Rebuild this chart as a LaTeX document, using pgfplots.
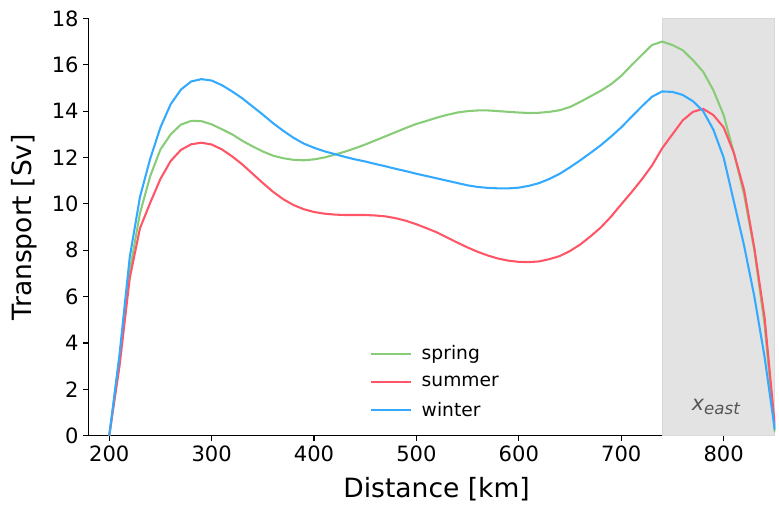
\documentclass[border=0pt]{standalone}
\usepackage{fontspec}
\setmainfont{DejaVu Sans}
\usepackage{pgfplots}
\usepackage{pgfplotstable}
\pgfplotsset{compat=1.18}
\definecolor{cspring}{HTML}{88CC77}
\definecolor{csummer}{HTML}{FF5566}
\definecolor{cwinter}{HTML}{33AAFF}
\definecolor{shade}{HTML}{E3E3E3}
\definecolor{shadeedge}{HTML}{D8D8D8}
\definecolor{xeast}{HTML}{555555}

\pgfplotstableread{
x spring summer winter
200 0.0 0.0 0.0
210 3.3 3.0 3.5
220 7.1 6.8 7.7
230 9.6 8.95 10.3
240 11.2 10.05 11.95
250 12.35 11.08 13.3
260 13.0 11.85 14.3
270 13.42 12.33 14.93
280 13.58 12.57 15.28
290 13.57 12.64 15.38
300 13.43 12.56 15.32
310 13.22 12.35 15.12
320 13.0 12.05 14.85
330 12.72 11.7 14.55
340 12.48 11.3 14.2
350 12.26 10.9 13.85
360 12.08 10.52 13.48
370 11.97 10.2 13.15
380 11.9 9.95 12.85
390 11.88 9.77 12.6
400 11.92 9.65 12.42
410 12.0 9.58 12.27
420 12.12 9.54 12.15
430 12.25 9.52 12.03
440 12.4 9.52 11.92
450 12.56 9.52 11.83
460 12.74 9.5 11.72
470 12.92 9.46 11.62
480 13.1 9.38 11.51
490 13.28 9.27 11.41
500 13.45 9.12 11.3
510 13.58 8.95 11.2
520 13.72 8.77 11.1
530 13.84 8.55 11.0
540 13.94 8.33 10.9
550 14.0 8.12 10.8
560 14.03 7.93 10.73
570 14.03 7.77 10.69
580 14.0 7.64 10.67
590 13.97 7.55 10.67
600 13.94 7.5 10.7
610 13.92 7.49 10.78
620 13.93 7.52 10.9
630 13.97 7.62 11.08
640 14.04 7.75 11.3
650 14.18 7.97 11.58
660 14.4 8.25 11.88
670 14.64 8.6 12.2
680 14.88 8.98 12.53
690 15.16 9.45 12.9
700 15.52 9.98 13.3
710 15.98 10.5 13.75
720 16.42 11.05 14.2
730 16.85 11.65 14.62
740 17.0 12.4 14.85
750 16.85 13.0 14.83
760 16.63 13.6 14.7
770 16.2 13.97 14.43
780 15.7 14.1 14.0
790 14.9 13.83 13.2
800 13.83 13.3 12.0
810 12.2 12.2 10.1
820 10.4 10.6 8.2
830 8.0 8.1 6.0
840 4.8 5.1 3.4
850 0.15 0.45 0.25
}\datatable

\begin{document}
\begin{tikzpicture}
\begin{axis}[
  scale only axis, width=515.25pt, height=313pt,
  xmin=179.5, xmax=850.5, ymin=0, ymax=18,
  axis x line*=bottom, axis y line*=left,
  x axis line style={-}, y axis line style={-},
  axis line style={line width=0.83pt, black},
  xtick={200,300,...,800}, ytick={0,2,...,18},
  tick align=outside, major tick length=3.7pt,
  tick style={line width=0.83pt, black},
  /pgf/number format/assume math mode=true,
  ticklabel style={font=\fontsize{15.8}{18}\selectfont},
  xlabel={Distance [km]}, ylabel={Transport [Sv]},
  label style={font=\fontsize{19.9}{23}\selectfont},
  xlabel style={at={(axis description cs:0.507,-0.147)}, anchor=base},
  ylabel style={at={(axis description cs:-0.0825,0.5)}, anchor=base},
  legend style={draw=none, fill=none, font=\fontsize{14}{16}\selectfont,
    at={(axis description cs:0.506,0.028)}, anchor=south, row sep=6.5pt,
    /tikz/every odd column/.style={column sep=5pt}},
  legend cell align=left,
  legend image code/.code={\draw[#1] (0pt,0pt) -- (30pt,0pt);},
]
\addplot[forget plot, fill=shade, draw=shadeedge, line width=0.5pt] coordinates {(740,18) (850,18)} \closedcycle;
\addplot[cspring, line width=1.55pt] table[x=x, y=spring] {\datatable};
\addlegendentry{spring}
\addplot[csummer, line width=1.55pt] table[x=x, y=summer] {\datatable};
\addlegendentry{summer}
\addplot[cwinter, line width=1.55pt] table[x=x, y=winter] {\datatable};
\addlegendentry{winter}
\node[anchor=base, text=xeast, inner sep=0pt] at (axis cs:792.5,1.08)
  {{\fontsize{15.5}{18}\selectfont\itshape x}\raisebox{-3.2pt}{\fontsize{12.5}{14}\selectfont\itshape east}};
\end{axis}
\pgfresetboundingbox
\path[use as bounding box] (-66.2pt,-55pt) rectangle (518pt,326.8pt);
\end{tikzpicture}
\end{document}
